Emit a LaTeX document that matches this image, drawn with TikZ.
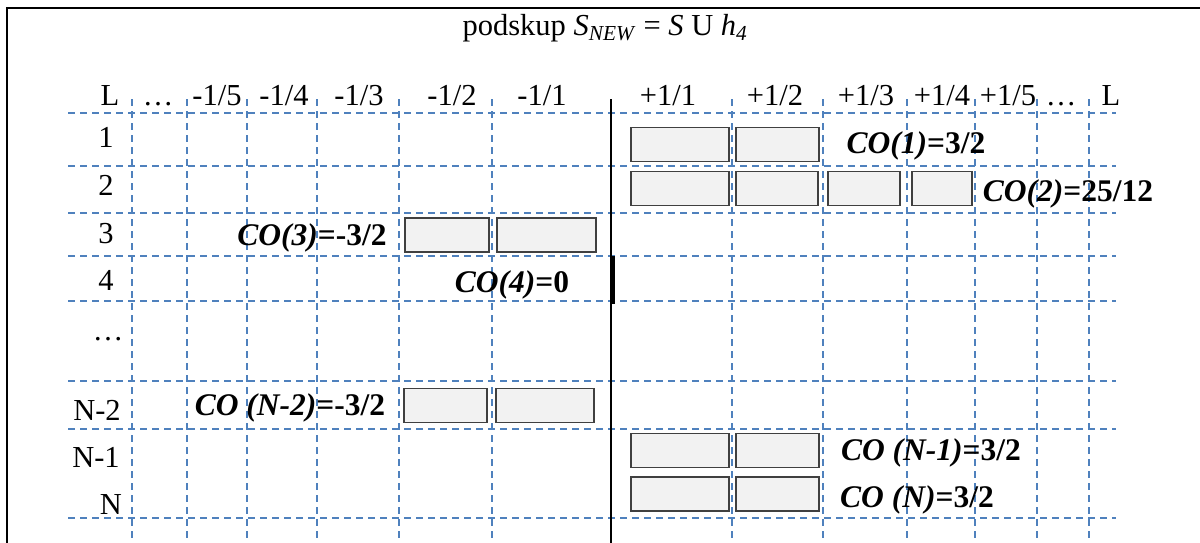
\documentclass[tikz,border=0pt]{standalone}
\usepackage{fontspec}
\setmainfont{Liberation Serif}
\definecolor{gridblue}{RGB}{79,129,189}
\definecolor{cellgray}{RGB}{242,242,242}
\definecolor{celledge}{RGB}{64,64,64}

\begin{document}
\begin{tikzpicture}[
                    x=1pt,
                    y=-1pt,
                    every node/.style={
                        inner sep=0pt,
                        font=\fontsize{30.5}{34}\selectfont
                    },
                    gridline/.style={
                        gridblue,
                        line width=2pt,
                        dash pattern=on 7pt off 5pt
                    },
                    lab/.style={anchor=base},
                    cell/.style={
                        draw=celledge,
                        fill=cellgray,
                        line width=1.3pt,
                        minimum height=34pt
                    },
                    colab/.style={
                        anchor=base,
                        font=\fontsize{31.5}{35}\selectfont\bfseries
                    }
                ]
                    \useasboundingbox (0,0) rectangle (1200,542);
                    \clip (0,0) rectangle (1200,542);

                    \foreach \x in {132,187,247,317,399,492,732,823,907,975,1037,1089}
                        \draw[gridline] (\x,99) -- (\x,542);
                    \foreach \y in {113,166,213,256,301,381,429,518}
                        \draw[gridline] (68,\y) -- (1116,\y);

                    \draw[line width=2pt] (7,545) -- (7,8) -- (1210,8);
                    \draw[line width=2pt] (611,99) -- (611,545);
                    \draw[line width=5pt] (612,256) -- (612,304);

                    \node[lab] (title) at (605,35) {podskup \textit{S}\textsubscript{\textit{NEW}} = \textit{S} U \textit{h}\textsubscript{\textit{4}}};

                    \node[lab] (hL)    at (110,105)  {L};
                    \node[lab] (hdotl) at (158,105)  {…};
                    \node[lab] (hm5)   at (217,105)  {-1/5};
                    \node[lab] (hm4)   at (284,105)  {-1/4};
                    \node[lab] (hm3)   at (359,105)  {-1/3};
                    \node[lab] (hm2)   at (452,105)  {-1/2};
                    \node[lab] (hm1)   at (542,105)  {-1/1};
                    \node[lab] (hp1)   at (668,105)  {+1/1};
                    \node[lab] (hp2)   at (775,105)  {+1/2};
                    \node[lab] (hp3)   at (866,105)  {+1/3};
                    \node[lab] (hp4)   at (942,105)  {+1/4};
                    \node[lab] (hp5)   at (1008,105) {+1/5};
                    \node[lab] (hdotr) at (1061,105) {…};
                    \node[lab] (hR)    at (1111,105) {L};

                    \node[lab] (r1)    at (106,147) {1};
                    \node[lab] (r2)    at (106,195) {2};
                    \node[lab] (r3)    at (106,243) {3};
                    \node[lab] (r4)    at (106,290) {4};
                    \node[lab] (rdots) at (108,340) {…};
                    \node[lab] (rN2)   at (97,420)  {N-2};
                    \node[lab] (rN1)   at (96,467)  {N-1};
                    \node[lab] (rN)    at (111,514) {N};

                    \node[cell, minimum width=98pt] (c1a) at (680,144.5) {};
                    \node[cell, minimum width=83pt] (c1b) at (777.5,144.5) {};

                    \node[cell, minimum width=98pt] (c2a) at (680,188.5) {};
                    \node[cell, minimum width=82pt] (c2b) at (777,188.5) {};
                    \node[cell, minimum width=72pt] (c2c) at (864,188.5) {};
                    \node[cell, minimum width=60pt] (c2d) at (942,188.5) {};

                    \node[cell, minimum width=84pt] (c3a) at (447,235) {};
                    \node[cell, minimum width=99pt] (c3b) at (546.5,235) {};

                    \node[cell, minimum width=83pt] (cN2a) at (445.5,405.5) {};
                    \node[cell, minimum width=98pt] (cN2b) at (545,405.5) {};

                    \node[cell, minimum width=98pt] (cN1a) at (680,450.5) {};
                    \node[cell, minimum width=83pt] (cN1b) at (777.5,450.5) {};

                    \node[cell, minimum width=98pt] (cNa) at (680,494) {};
                    \node[cell, minimum width=83pt] (cNb) at (777.5,494) {};

                    \node[colab] (co1)  at (916,153)  {\textit{CO(1)}=3/2};
                    \node[colab] (co2)  at (1068,201) {\textit{CO(2)}=25/12};
                    \node[colab] (co3)  at (312,245)  {\textit{CO(3)}=-3/2};
                    \node[colab] (co4)  at (512,292)  {\textit{CO(4)}=0};
                    \node[colab] (coN2) at (290,415)  {\textit{CO (N-2)}=-3/2};
                    \node[colab] (coN1) at (931,460)  {\textit{CO (N-1)}=3/2};
                    \node[colab] (coN)  at (917,507)  {\textit{CO (N)}=3/2};
                \end{tikzpicture}
\end{document}
